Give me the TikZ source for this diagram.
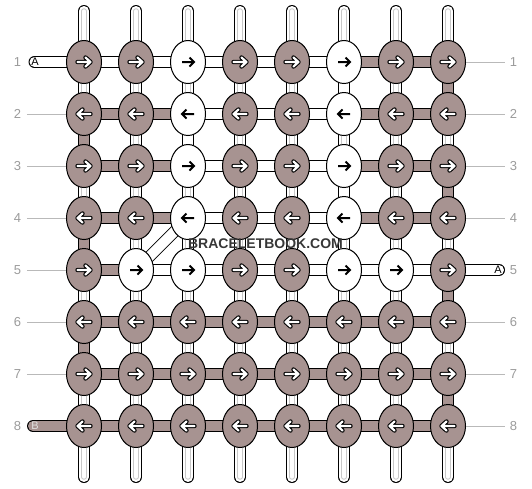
\documentclass[tikz,border=0pt]{standalone}
\usepackage{fontspec}
\setmainfont{Liberation Sans}
\usetikzlibrary{shapes.geometric}
\definecolor{thrB}{RGB}{167,147,145}
\definecolor{warpline}{RGB}{200,200,200}
\definecolor{labgray}{RGB}{155,155,155}
\definecolor{sitegray}{RGB}{55,55,55}
\pgfdeclarelayer{bg}
\pgfsetlayers{bg,main}
\tikzset{
  knot/.style={ellipse, draw=black, line width=1pt, minimum width=35pt, minimum height=43pt, inner sep=0pt},
  knotb/.style={fill=thrB},
  knotw/.style={fill=white},
  strand/.style={draw=black, line width=12pt, line cap=round},
  threadW/.style={strand, postaction={draw=white, line width=10pt},
    postaction={draw=warpline, line width=5.4pt}, postaction={draw=white, line width=3.4pt}},
  threadA/.style={strand, postaction={draw=white, line width=10pt}},
  threadB/.style={strand, postaction={draw=thrB, line width=10pt}},
  lab/.style={inner sep=0pt, text=labgray, font=\fontsize{13}{15}\selectfont},
  labline/.style={draw=labgray!70, line width=0.8pt},
  tag/.style={inner sep=0pt, font=\fontsize{11}{13}\selectfont},
  arrowb/.pic={
    \draw[line width=4.4pt, line cap=round, line join=round] (-6.5,0) -- (6.5,0) (1.5,-4.5) -- (6.5,0) -- (1.5,4.5);
    \draw[white, line width=2.2pt, line cap=round, line join=round] (-6.5,0) -- (6.5,0) (1.5,-4.5) -- (6.5,0) -- (1.5,4.5);
  },
  arroww/.pic={
    \draw[line width=2pt] (-6,0) -- (6,0) (1.5,-4.5) -- (6,0) -- (1.5,4.5);
  }
}
\begin{document}
\begin{tikzpicture}[x=1pt,y=-1pt]
\useasboundingbox (0,0) rectangle (532,488);

\foreach \r/\s/\kl in {1/1/{b,b,w,b,b,w,b,b},2/-1/{b,b,w,b,b,w,b,b},3/1/{b,b,w,b,b,w,b,b},4/-1/{b,b,w,b,b,w,b,b},
                       5/1/{b,w,w,b,b,w,w,b},6/-1/{b,b,b,b,b,b,b,b},7/1/{b,b,b,b,b,b,b,b},8/-1/{b,b,b,b,b,b,b,b}}
  \foreach \k [count=\c] in \kl {
    \node[knot, knot\k] (k-\r-\c) at ({32+52*\c},{10+52*\r}) {};
    \pic[xscale=\s] at (k-\r-\c) {arrow\k};
  }

\begin{pgfonlayer}{bg}
\foreach \r/\hl in {1/{A,A,A,A,A,B,B},2/{B,B,A,A,A,B,B},3/{B,B,A,A,A,B,B},4/{B,B,A,A,A,B,B},
                    5/{B,A,A,A,A,A,A},6/{B,B,B,B,B,B,B},7/{B,B,B,B,B,B,B},8/{B,B,B,B,B,B,B}}
  \foreach \t [count=\c] in \hl {
    \pgfmathtruncatemacro\n{\c+1}
    \draw[thread\t] (k-\r-\c.center) -- (k-\r-\n.center);
  }
\foreach \r/\vl in {1/{W,W,W,W,W,A,W,B},2/{B,W,A,W,W,W,W,W},3/{W,W,W,W,W,A,W,B},4/{B,W,W,W,W,W,W,W},
                    5/{W,W,W,W,W,W,W,B},6/{B,W,W,W,W,W,W,W},7/{W,W,W,W,W,W,W,B}}
  \foreach \t [count=\c] in \vl {
    \pgfmathtruncatemacro\n{\r+1}
    \draw[thread\t] (k-\r-\c.center) -- (k-\n-\c.center);
  }
\foreach \c in {1,...,8} {
  \coordinate (top-\c) at ({32+52*\c},11);
  \coordinate (bot-\c) at ({32+52*\c},477);
  \draw[threadW] (top-\c) -- (k-1-\c.center);
  \draw[threadW] (bot-\c) -- (k-8-\c.center);
}
\draw[threadA] (k-4-3.center) -- (k-5-2.center);
\coordinate (inA) at (34.5,62);
\coordinate (outA) at (499,270);
\coordinate (inB) at (33,426);
\draw[threadA] (inA) -- (k-1-1.center);
\draw[threadA] (outA) -- (k-5-8.center);
\draw[threadB] (inB) -- (k-8-1.center);
\end{pgfonlayer}

\node[tag] (tagA1) at (35,62) {A};
\node[tag] (tagA5) at (498,270) {A};
\node[tag, text=white!88!black] (tagB8) at (35,426) {B};

\foreach \r in {1,...,8} {
  \node[lab] (ll-\r) at (17.5,{10+52*\r}) {\r};
  \node[lab] (rl-\r) at (513.5,{10+52*\r}) {\r};
}
\foreach \r in {2,...,7}
  \draw[labline, shorten <=5.5pt] (ll-\r) -- (k-\r-1);
\foreach \r in {1,2,3,4,6,7,8}
  \draw[labline, shorten >=4.5pt] (k-\r-8) -- (rl-\r);

\node[inner sep=0pt, text=sitegray, font=\bfseries\fontsize{14}{16}\selectfont] (site) at (265.5,243.5) {BRACELETBOOK.COM};
\end{tikzpicture}
\end{document}
